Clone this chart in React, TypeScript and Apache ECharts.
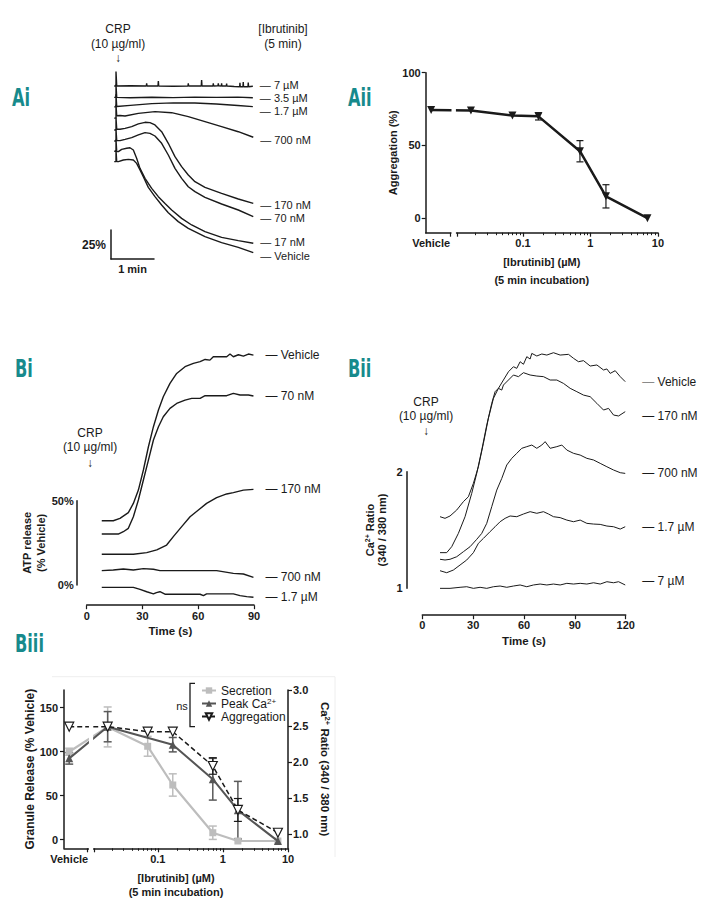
import React, { useEffect, useRef } from 'react';
import * as echarts from 'echarts';

const FONT = '"Liberation Sans", Arial, Helvetica, sans-serif';
const PANEL_FONT = 'bold 25px "Liberation Sans Narrow", "DejaVu Sans Condensed", "Liberation Sans", sans-serif';
const TEAL = '#178a8c';
const INK = '#1a1a1a';

// ---------------- Ai : aggregation traces [time (s), deflection (%)] ----------------
const aiNames = ['7 µM', '3.5 µM', '1.7 µM', '700 nM', '170 nM', '70 nM', '17 nM', 'Vehicle'];
const ai7uM = [[-2.5, 13.8], [0, 13.8], [0, 1.4], [1, 13.8], [20, 13.6], [42.3, 13.8], [42.8, 11.5], [43.3, 13.8], [58.6, 13.8], [59.1, 9.5], [59.6, 13.8], [80, 14.0], [100.4, 13.8], [100.9, 11.5], [101.4, 13.8], [119, 13.8], [119.5, 8.6], [120, 13.8], [135.3, 13.8], [135.8, 11.5], [136.3, 13.8], [142.3, 13.6], [142.8, 11.5], [143.3, 13.6], [147, 13.8], [147.4, 11.5], [147.8, 13.8], [154, 13.8], [154.4, 11.8], [154.8, 13.8], [165, 14.2], [172.6, 14.4], [173, 11.0], [173.4, 14.4], [177.2, 14.4], [177.6, 10.3], [178, 14.4], [184.2, 14.4], [184.6, 10.8], [185, 14.4], [191, 14.0]];
const ai3_5uM = [[-2.5, 23.6], [0, 23.6], [0, 12.5], [1, 23.6], [20, 23.9], [50, 23.5], [80, 23.8], [110, 23.4], [140, 23.6], [170, 23.4], [191, 23.9]];
const ai1_7uM = [[-2.5, 31.8], [0, 31.8], [0, 21], [1, 31.5], [20, 30.5], [50, 29.0], [80, 28.3], [110, 28.4], [140, 29.3], [170, 30.6], [191, 31.6]];
const ai700nM = [[-2.5, 41.5], [0, 41.5], [0, 30], [1, 39.5], [5.6, 39.2], [12.6, 39.7], [31.2, 37.4], [54.4, 35.9], [77.7, 36.8], [100.9, 40.2], [124.2, 44.5], [147.4, 48.8], [170.7, 53.2], [191.6, 58.0]];
const ai170nM = [[-2.5, 51.7], [0, 51.7], [0, 41], [1, 51.1], [5.6, 51.1], [12.6, 50.3], [21.9, 48.8], [31.2, 46.5], [40.5, 45.1], [47.4, 45.4], [54.4, 47.4], [63.7, 53.2], [73.0, 63.2], [82.3, 74.7], [91.6, 83.3], [100.9, 90.5], [110.2, 96.3], [124.2, 101.2], [147.4, 106.3], [170.7, 111.2], [191.6, 115.0]];
const ai70nM = [[-2.5, 61.2], [0, 61.2], [0, 51], [1, 60.9], [5.6, 60.9], [12.6, 59.8], [21.9, 58.3], [31.2, 56.0], [40.5, 54.0], [47.4, 54.6], [54.4, 56.9], [63.7, 63.2], [73.0, 73.3], [82.3, 84.8], [91.6, 93.4], [100.9, 100.6], [110.2, 104.9], [124.2, 109.8], [147.4, 115.5], [170.7, 120.7], [191.6, 126.4]];
const ai17nM = [[-2.5, 70.0], [0, 70.0], [0, 60], [1, 70.4], [3.3, 70.4], [7.9, 68.4], [14.9, 67.5], [19.5, 67.0], [24.2, 69.0], [28.8, 76.1], [33.5, 84.8], [40.5, 93.4], [49.8, 102.0], [59.1, 109.2], [68.4, 115.0], [77.7, 120.7], [91.6, 127.9], [105.6, 133.6], [124.2, 139.4], [147.4, 144.3], [170.7, 147.1], [191.6, 149.4]];
const aiVehicle = [[-2.5, 79.0], [0, 79.0], [0, 69], [1, 79.0], [3.3, 79.0], [10.2, 77.6], [17.2, 77.0], [24.2, 77.6], [28.8, 80.5], [33.5, 86.2], [38.1, 92.0], [45.1, 101.2], [54.4, 109.2], [63.7, 116.4], [73.0, 123.0], [86.9, 130.7], [100.9, 136.5], [124.2, 143.7], [147.4, 148.8], [170.7, 152.9], [191.6, 157.5]];
const aiTraces = [ai7uM, ai3_5uM, ai1_7uM, ai700nM, ai170nM, ai70nM, ai17nM, aiVehicle];
const aiLabelShift = [-1.5, 0, 4, 2.5, 1.5, 1.5, -1, 3.5];

// ---------------- Aii : aggregation vs [ibrutinib] ----------------
const aiiConc = [0.017, 0.07, 0.17, 0.7, 1.7, 7];
const aiiVehicle = 74.4;
const aiiMean = [74, 70.5, 70, 46, 15, 0];
const aiiErr = [0, 0, 2.5, 7.3, 8, 0];

// ---------------- Bi : ATP release traces [time (s), %] ----------------
const biNames = ['Vehicle', '70 nM', '170 nM', '700 nM', '1.7 µM'];
const biVehicle = [[8.1, 38.1], [14.3, 38.1], [17.9, 39.5], [22.4, 42.9], [25.1, 48.4], [27.8, 56.3], [30.5, 68.2], [33.2, 82.0], [35.9, 93.9], [38.6, 103.8], [41.2, 111.7], [44.8, 119.6], [48.4, 125.5], [52.9, 129.5], [57.4, 131.5], [61.0, 132.5], [63.7, 133.8], [66.3, 133.4], [68.1, 135.4], [75.3, 135.4], [77.1, 137.0], [78.9, 135.4], [81.6, 136.6], [84.3, 135.8], [87.0, 137.0], [89.7, 136.4]];
const bi70nM = [[8.1, 30.2], [17.0, 30.2], [19.7, 31.6], [22.4, 33.6], [25.1, 40.5], [27.8, 50.4], [30.5, 62.3], [33.2, 74.1], [35.9, 86.0], [38.6, 93.9], [41.2, 99.8], [44.8, 104.8], [48.4, 107.7], [52.9, 109.7], [56.5, 110.7], [61.0, 110.7], [63.7, 112.3], [66.3, 112.3], [75.3, 112.3], [78.9, 113.7], [82.5, 112.7], [87.0, 112.7], [89.7, 112.1]];
const bi170nM = [[8.1, 18.2], [25.1, 18.2], [32.3, 19.2], [37.7, 20.8], [43.0, 23.7], [46.6, 28.7], [51.1, 34.6], [55.6, 40.5], [60.1, 44.5], [64.5, 48.4], [69.9, 51.8], [75.3, 54.0], [78.9, 54.8], [84.3, 56.3], [89.7, 56.7]];
const bi700nM = [[8.1, 8.5], [14.3, 8.9], [19.7, 9.5], [25.1, 8.9], [30.5, 9.7], [35.9, 9.3], [39.4, 8.5], [52.0, 8.5], [69.9, 8.5], [78.9, 6.9], [84.3, 6.5], [89.7, 4.5]];
const bi1_7uM = [[8.1, -1.4], [25.1, -1.4], [28.7, -2.6], [32.3, -4.0], [35.9, -5.3], [37.5, -4.5], [39.4, -4.0], [42.1, -5.5], [52.0, -5.5], [61.0, -5.5], [62.8, -6.3], [64.5, -5.3], [78.9, -5.3], [82.5, -6.3], [86.1, -6.9], [89.7, -7.3]];
const biTraces = [biVehicle, bi70nM, bi170nM, bi700nM, bi1_7uM];

// ---------------- Bii : Ca2+ ratio traces [time (s), ratio] ----------------
const biiNames = ['Vehicle', '170 nM', '700 nM', '1.7 µM', '7 µM'];
const biiVehicle = [[10.46, 1.614], [13.41, 1.600], [16.36, 1.620], [20.30, 1.671], [24.24, 1.743], [27.19, 1.785], [30.15, 1.900], [33.10, 2.042], [36.05, 2.242], [39.00, 2.457], [41.96, 2.628], [44.91, 2.714], [47.86, 2.785], [50.82, 2.856], [53.77, 2.899], [55.74, 2.885], [57.71, 2.942], [59.68, 2.920], [61.65, 2.985], [63.61, 2.965], [64.60, 3.013], [67.55, 2.991], [70.50, 3.008], [73.46, 2.999], [77.39, 3.019], [81.33, 2.999], [86.25, 3.005], [89.21, 2.971], [92.16, 2.942], [95.11, 2.951], [99.05, 2.905], [102.99, 2.914], [106.92, 2.871], [108.89, 2.880], [110.86, 2.842], [113.81, 2.865], [116.77, 2.814], [119.72, 2.771]];
const bii170nM = [[10.46, 1.306], [14.39, 1.306], [17.35, 1.357], [21.28, 1.471], [25.22, 1.614], [29.16, 1.814], [32.11, 1.985], [35.07, 2.185], [38.02, 2.399], [40.97, 2.585], [42.94, 2.685], [44.91, 2.714], [46.88, 2.699], [47.86, 2.742], [50.82, 2.785], [53.77, 2.828], [56.72, 2.814], [59.68, 2.848], [63.61, 2.828], [67.55, 2.819], [71.49, 2.814], [75.43, 2.785], [79.36, 2.785], [83.30, 2.756], [87.24, 2.714], [91.18, 2.685], [95.11, 2.656], [99.05, 2.642], [102.99, 2.585], [106.92, 2.528], [109.88, 2.542], [112.83, 2.485], [115.79, 2.477], [119.72, 2.514]];
const bii700nM = [[10.46, 1.249], [13.41, 1.243], [16.36, 1.249], [20.30, 1.271], [24.24, 1.314], [28.18, 1.357], [32.11, 1.420], [35.07, 1.471], [38.02, 1.557], [40.97, 1.700], [43.93, 1.842], [46.88, 1.942], [49.83, 2.057], [52.78, 2.114], [55.74, 2.157], [58.69, 2.200], [61.65, 2.214], [64.60, 2.228], [67.55, 2.200], [70.50, 2.228], [72.47, 2.257], [75.43, 2.200], [79.36, 2.214], [82.31, 2.228], [85.27, 2.185], [89.21, 2.157], [93.14, 2.142], [97.08, 2.114], [101.02, 2.100], [104.96, 2.071], [108.89, 2.042], [112.83, 2.014], [116.77, 1.991], [119.72, 1.985]];
const bii1_7uM = [[10.46, 1.151], [14.39, 1.134], [18.33, 1.157], [22.27, 1.200], [26.21, 1.243], [30.15, 1.306], [33.10, 1.386], [36.05, 1.428], [39.99, 1.486], [42.94, 1.528], [45.90, 1.571], [48.85, 1.600], [51.80, 1.620], [55.74, 1.614], [59.68, 1.637], [63.61, 1.657], [67.55, 1.643], [71.49, 1.657], [74.44, 1.637], [77.39, 1.614], [81.33, 1.606], [85.27, 1.585], [89.21, 1.571], [93.14, 1.585], [97.08, 1.557], [101.02, 1.551], [104.96, 1.548], [108.89, 1.534], [112.83, 1.528], [116.77, 1.508], [119.72, 1.528]];
const bii7uM = [[10.46, 1.000], [16.36, 1.000], [22.27, 1.009], [26.21, 1.014], [30.15, 1.000], [34.08, 1.009], [38.02, 1.000], [41.96, 1.014], [45.90, 1.020], [49.83, 1.009], [53.77, 1.020], [57.71, 1.029], [61.65, 1.014], [65.58, 1.029], [69.52, 1.037], [73.46, 1.029], [77.39, 1.037], [81.33, 1.029], [85.27, 1.043], [89.21, 1.037], [93.14, 1.043], [97.08, 1.037], [101.02, 1.048], [104.96, 1.037], [108.89, 1.057], [112.83, 1.048], [115.79, 1.057], [119.72, 1.029]];
const biiTraces = [biiVehicle, bii170nM, bii700nM, bii1_7uM, bii7uM];
const biiLabelShift = [0, 4, 0, 0, -4];

// ---------------- Biii : granule release / Ca2+ / aggregation ----------------
const biiiConc = [0.017, 0.07, 0.17, 0.7, 1.7, 7];
const secVehicle = [99.8, 4];
const secMean = [128, 106, 62, 7.7, -1.7, -1.7];
const secErr = [22.7, 11.3, 12.7, 7.6, 0, 0];
const caConc = [0.017, 0.17, 0.7, 1.7, 7];
const caVehicle = [2.05, 0.08];
const caMean = [2.49, 2.24, 1.76, 1.33, 0.9];
const caErr = [0.21, 0.1, 0.29, 0.4, 0];
const aggVehicle = 128.3;
const aggMean = [128.3, 122.6, 122.6, 83.6, 33.6, 7.7];
const aggErr = [0, 0, 0, 9.4, 13, 0];

// ---------------- broken log axis (log10 units) ----------------
const U_MIN = -2.44;
const U_MAX = 1;
const U_VEH = -2.36;
const GAP = [-2.08, -1.97];
const concTickValues = [U_VEH, -1, 0, 1];
const concTickLabels = ['Vehicle', '0.1', '1', '10'];
const minorMult = [2, 3, 4, 5, 6, 7, 8, 9];
const minorDecades = [0.01, 0.1, 1];

const lg = (c: number) => Math.log10(c);
const majorTicks = [GAP[0], GAP[1], -1, 0, 1];
const minorTicks = minorDecades.flatMap((d) => minorMult.map((m) => lg(m * d)));
const fmtConc = (v: number) => {
  const i = concTickValues.findIndex((t) => Math.abs(t - v) < 1e-6);
  return i >= 0 ? concTickLabels[i] : '';
};

const bold = (size = 11) => ({ fontFamily: FONT, fontSize: size, fontWeight: 'bold' as const, color: INK });
const noSplit = { show: false };

const errRender = (color: string, lw: number, cap: number) => (params: any, api: any) => {
  const x = api.value(0);
  const lo = api.coord([x, api.value(1)]);
  const hi = api.coord([x, api.value(2)]);
  const h = cap / 2;
  const style = { stroke: color, lineWidth: lw };
  return {
    type: 'group',
    children: [
      { type: 'line', shape: { x1: lo[0], y1: lo[1], x2: hi[0], y2: hi[1] }, style },
      { type: 'line', shape: { x1: lo[0] - h, y1: lo[1], x2: lo[0] + h, y2: lo[1] }, style },
      { type: 'line', shape: { x1: hi[0] - h, y1: hi[1], x2: hi[0] + h, y2: hi[1] }, style },
    ],
  };
};

const errSeries = (xi: number, yi: number, data: number[][], color: string, lw: number, cap: number, z: number) => ({
  type: 'custom',
  xAxisIndex: xi,
  yAxisIndex: yi,
  silent: true,
  z,
  renderItem: errRender(color, lw, cap),
  encode: { x: 0, y: [1, 2] },
  data,
});

const errData = (uVals: number[], mean: number[], err: number[]) =>
  uVals.map((u, i) => [u, mean[i] - err[i], mean[i] + err[i]]).filter((_, i) => err[i] > 0);

const traceSeries = (names: string[], datas: number[][][], xi: number, yi: number, distance: number, shift: number[], width: number, fontSize: number, grayDashFirst = false) =>
  names.map((n, i) => ({
    type: 'line',
    name: n,
    xAxisIndex: xi,
    yAxisIndex: yi,
    data: datas[i],
    showSymbol: false,
    symbol: 'none',
    silent: true,
    z: 3,
    lineStyle: { color: INK, width },
    endLabel: {
      show: true,
      distance,
      offset: [0, shift[i] || 0],
      formatter: (p: any) => (grayDashFirst && i === 0 ? '{g|—} ' : '— ') + p.seriesName,
      color: INK,
      fontFamily: FONT,
      fontSize,
      rich: { g: { color: '#8a8a8a', fontFamily: FONT, fontSize } },
    },
  }));

const txt = (text: string, x: number, y: number, font = `12px ${FONT}`, align = 'center', fill = INK, scaleX?: number) => {
  const el: any = { type: 'text', x, y, z: 50, silent: true, style: { text, fill, font, align, verticalAlign: 'middle' } };
  if (scaleX) el.scaleX = scaleX;
  return el;
};

const concAxes = (grid: number) => [
  {
    type: 'value', gridIndex: grid, min: U_MIN, max: U_MAX, position: 'bottom',
    axisLine: { show: true, onZero: false, lineStyle: { color: INK, width: 1.5 } },
    axisTick: { show: true, length: 4, customValues: majorTicks, lineStyle: { color: INK, width: 1.2 } },
    axisLabel: { show: true, customValues: concTickValues, formatter: fmtConc, margin: 5, ...bold(11) },
    splitLine: noSplit,
    nameLocation: 'middle',
  } as any,
  {
    type: 'value', gridIndex: grid, min: U_MIN, max: U_MAX, position: 'bottom',
    axisLine: { show: false, onZero: false },
    axisTick: { show: true, length: 2.5, customValues: minorTicks, lineStyle: { color: INK, width: 1 } },
    axisLabel: { show: false },
    splitLine: noSplit,
  } as any,
];

function buildOption() {
  const aiiU = aiiConc.map(lg);
  const biiiU = biiiConc.map(lg);
  const caU = caConc.map(lg);

  const xAxis: any[] = [];
  const yAxis: any[] = [];
  // 0 Ai traces
  xAxis.push({ type: 'value', gridIndex: 0, min: -3, max: 191, show: false, splitLine: noSplit });
  yAxis.push({ type: 'value', gridIndex: 0, min: 0, max: 165, inverse: true, show: false, splitLine: noSplit });
  // 1 Ai scale bar
  xAxis.push({
    type: 'value', gridIndex: 1, min: 0, max: 1,
    axisLine: { show: true, onZero: false, lineStyle: { color: INK, width: 1.5 } },
    axisTick: { show: false }, axisLabel: { show: false }, splitLine: noSplit,
    name: '1 min', nameLocation: 'middle', nameGap: 4, nameTextStyle: bold(11),
  });
  yAxis.push({
    type: 'value', gridIndex: 1, min: 0, max: 25,
    axisLine: { show: true, onZero: false, lineStyle: { color: INK, width: 1.5 } },
    axisTick: { show: false }, axisLabel: { show: false }, splitLine: noSplit,
    name: '25%', nameLocation: 'middle', nameRotate: 0, nameGap: 5, nameTextStyle: bold(12),
  });
  // 2,3 Aii
  const aiiX = concAxes(2);
  aiiX[0].name = '[Ibrutinib] (µM)\n(5 min incubation)';
  aiiX[0].nameGap = 21;
  aiiX[0].nameTextStyle = { ...bold(11), lineHeight: 17.6 };
  xAxis.push(...aiiX);
  yAxis.push({
    type: 'value', gridIndex: 2, min: -10, max: 100,
    axisLine: { show: true, onZero: false, lineStyle: { color: INK, width: 1.5 } },
    axisTick: { show: true, length: 4, customValues: [0, 50, 100], lineStyle: { color: INK, width: 1.2 } },
    axisLabel: { customValues: [0, 50, 100], margin: 5, ...bold(11) },
    splitLine: noSplit,
    name: 'Aggregation (%)', nameLocation: 'middle', nameRotate: 90, nameGap: 27, nameTextStyle: bold(11),
  });
  // 4 Bi traces
  xAxis.push({
    type: 'value', gridIndex: 3, min: 0, max: 90, interval: 30,
    axisLine: { show: true, onZero: false, lineStyle: { color: INK, width: 1.5 } },
    axisTick: { show: true, length: 4, lineStyle: { color: INK, width: 1.2 } },
    axisLabel: { margin: 5, ...bold(11) }, splitLine: noSplit,
    name: 'Time (s)', nameLocation: 'middle', nameGap: 20, nameTextStyle: bold(11.5),
  });
  yAxis.push({ type: 'value', gridIndex: 3, min: -12, max: 140, show: false, splitLine: noSplit });
  // 5 Bi scale bar
  xAxis.push({ type: 'value', gridIndex: 4, min: 0, max: 1, show: false, splitLine: noSplit });
  yAxis.push({
    type: 'value', gridIndex: 4, min: 0, max: 50, interval: 50,
    axisLine: { show: true, onZero: false, lineStyle: { color: INK, width: 1.5 } },
    axisTick: { show: false }, axisLabel: { formatter: '{value}%', margin: 3, ...bold(11) }, splitLine: noSplit,
    name: 'ATP release\n(% Vehicle)', nameLocation: 'middle', nameRotate: 90, nameGap: 17,
    nameTextStyle: { ...bold(11), lineHeight: 14 },
  });
  // 6 Bii traces
  xAxis.push({
    type: 'value', gridIndex: 5, min: 0, max: 120, interval: 30,
    axisLine: { show: true, onZero: false, lineStyle: { color: INK, width: 1.5 } },
    axisTick: { show: true, length: 4, lineStyle: { color: INK, width: 1.2 } },
    axisLabel: { margin: 4, ...bold(11) }, splitLine: noSplit,
    name: 'Time (s)', nameLocation: 'middle', nameGap: 20, nameTextStyle: bold(11.5),
  });
  yAxis.push({ type: 'value', gridIndex: 5, min: 0.77, max: 3.05, show: false, splitLine: noSplit });
  // 7 Bii scale bar
  xAxis.push({ type: 'value', gridIndex: 6, min: 0, max: 1, show: false, splitLine: noSplit });
  yAxis.push({
    type: 'value', gridIndex: 6, min: 1, max: 2, interval: 1,
    axisLine: { show: true, onZero: false, lineStyle: { color: INK, width: 1.5 } },
    axisTick: { show: false }, axisLabel: { margin: 4, ...bold(11) }, splitLine: noSplit,
    name: 'Ca{sup|2+} Ratio\n(340 / 380 nm)', nameLocation: 'middle', nameRotate: 90, nameGap: 19,
    nameTextStyle: { ...bold(11), lineHeight: 12, rich: { sup: { ...bold(7), verticalAlign: 'top', lineHeight: 8 } } },
  });
  // 8,9 Biii
  const biiiX = concAxes(7);
  biiiX[0].name = '[Ibrutinib] (µM)\n(5 min incubation)';
  biiiX[0].nameGap = 23;
  biiiX[0].nameTextStyle = { ...bold(11), lineHeight: 13.5 };
  xAxis.push(...biiiX);
  yAxis.push({
    type: 'value', gridIndex: 7, min: -10, max: 170, position: 'left',
    axisLine: { show: true, onZero: false, lineStyle: { color: INK, width: 1.5 } },
    axisTick: { show: true, length: 4, customValues: [0, 50, 100, 150], lineStyle: { color: INK, width: 1.2 } },
    axisLabel: { customValues: [0, 50, 100, 150], margin: 6, ...bold(11) },
    splitLine: noSplit,
    name: 'Granule Release (% Vehicle)', nameLocation: 'middle', nameRotate: 90, nameGap: 27, nameTextStyle: bold(12),
  });
  yAxis.push({
    type: 'value', gridIndex: 7, min: 0.8, max: 3.0, position: 'right',
    axisLine: { show: true, onZero: false, lineStyle: { color: INK, width: 1.5 } },
    axisTick: { show: true, length: 4, customValues: [1, 1.5, 2, 2.5, 3], lineStyle: { color: INK, width: 1.2 } },
    axisLabel: { customValues: [1, 1.5, 2, 2.5, 3], margin: 5, formatter: (v: number) => v.toFixed(1), ...bold(11) },
    splitLine: noSplit,
    name: 'Ca{sup|2+} Ratio (340 / 380 nm)', nameLocation: 'middle', nameRotate: -90, nameGap: 31,
    nameTextStyle: { ...bold(11.5), rich: { sup: { ...bold(7.5), verticalAlign: 'top', lineHeight: 8 } } },
  });

  const grid = [
    { left: 113.85, top: 70, width: 139.0, height: 191.4 },
    { left: 111, top: 230, width: 43, height: 29 },
    { left: 425.7, top: 72.7, width: 232.2, height: 160 },
    { left: 86.7, top: 349, width: 167.3, height: 256.2 },
    { left: 76.7, top: 500.7, width: 10, height: 84.3 },
    { left: 422.3, top: 349.1, width: 203.4, height: 266.1 },
    { left: 406.7, top: 471.7, width: 10, height: 116.6 },
    { left: 64, top: 690, width: 224, height: 158.3 },
  ].map((g) => ({ ...g, containLabel: false }));

  const series: any[] = [];
  series.push(...traceSeries(aiNames, aiTraces, 0, 0, 7, aiLabelShift, 1.4, 11));
  // Aii
  series.push(errSeries(2, 2, errData(aiiU, aiiMean, aiiErr), INK, 1.2, 7, 4));
  series.push({
    type: 'line', name: 'Aggregation (Aii)', xAxisIndex: 2, yAxisIndex: 2, silent: true, z: 5,
    data: [[U_VEH, aiiVehicle], ...aiiU.map((u, i) => [u, aiiMean[i]])],
    symbol: 'triangle', symbolRotate: 180, symbolSize: 8,
    lineStyle: { color: INK, width: 2.5 }, itemStyle: { color: INK },
  });
  series.push(...traceSeries(biNames, biTraces, 4, 3, 12, [], 1.4, 12));
  series.push(...traceSeries(biiNames, biiTraces, 6, 5, 17, biiLabelShift, 1, 12, true));
  // Biii
  series.push(errSeries(8, 7, [[U_VEH, secVehicle[0] - secVehicle[1], secVehicle[0] + secVehicle[1]], ...errData(biiiU, secMean, secErr)], '#bdbdbd', 1.5, 8, 2));
  series.push(errSeries(8, 8, [[U_VEH, caVehicle[0] - caVehicle[1], caVehicle[0] + caVehicle[1]], ...errData(caU, caMean, caErr)], '#5a5a5a', 1.5, 8, 3));
  series.push(errSeries(8, 7, errData(biiiU, aggMean, aggErr), INK, 1.2, 8, 4));
  series.push({
    type: 'line', name: 'Secretion', xAxisIndex: 8, yAxisIndex: 7, silent: true, z: 3,
    data: [[U_VEH, secVehicle[0]], ...biiiU.map((u, i) => [u, secMean[i]])],
    symbol: 'rect', symbolSize: 7,
    lineStyle: { color: '#bdbdbd', width: 2.2 }, itemStyle: { color: '#bdbdbd' },
  });
  series.push({
    type: 'line', name: 'Peak Ca2+', xAxisIndex: 8, yAxisIndex: 8, silent: true, z: 4,
    data: [[U_VEH, caVehicle[0]], ...caU.map((u, i) => [u, caMean[i]])],
    symbol: 'triangle', symbolSize: 8,
    lineStyle: { color: '#555555', width: 2 }, itemStyle: { color: '#555555' },
  });
  series.push({
    type: 'line', name: 'Aggregation', xAxisIndex: 8, yAxisIndex: 7, silent: true, z: 5,
    data: [[U_VEH, aggVehicle], ...biiiU.map((u, i) => [u, aggMean[i]])],
    symbol: 'triangle', symbolRotate: 180, symbolSize: 9,
    lineStyle: { color: INK, width: 1.5, type: [5, 3] },
    itemStyle: { color: '#ffffff', borderColor: INK, borderWidth: 1.2 },
  });

  return {
    animation: false,
    backgroundColor: '#ffffff',
    textStyle: { fontFamily: FONT },
    grid,
    xAxis,
    yAxis,
    legend: {
      data: ['Secretion', 'Peak Ca2+', 'Aggregation'],
      orient: 'vertical', left: 201, top: 684.5, itemWidth: 14, itemHeight: 8, itemGap: 1,
      selectedMode: false, padding: 0,
      formatter: (name: string) => (name === 'Peak Ca2+' ? 'Peak Ca{sup|2+}' : name),
      textStyle: { fontFamily: FONT, fontSize: 12, color: INK, rich: { sup: { fontFamily: FONT, fontSize: 8, color: INK, verticalAlign: 'top', lineHeight: 9 } } },
    },
    series,
  };
}

function baseGraphics() {
  return [
    // panel letters
    txt('Ai', 12, 97, PANEL_FONT, 'left', TEAL, 0.72),
    txt('Aii', 348, 97, PANEL_FONT, 'left', TEAL, 0.72),
    txt('Bi', 15, 368, PANEL_FONT, 'left', TEAL, 0.72),
    txt('Bii', 348, 368, PANEL_FONT, 'left', TEAL, 0.72),
    txt('Biii', 15, 643, PANEL_FONT, 'left', TEAL, 0.72),
    // Ai annotations
    txt('CRP', 118, 29.3),
    txt('(10 µg/ml)', 118, 44),
    txt('↓', 118, 58.3),
    txt('[Ibrutinib]', 283, 29.3),
    txt('(5 min)', 283, 44),
    // Bi annotations
    txt('CRP', 90, 432.7),
    txt('(10 µg/ml)', 90, 447),
    txt('↓', 90, 463),
    // Bii annotations
    txt('CRP', 426, 401.7),
    txt('(10 µg/ml)', 426, 415.7),
    txt('↓', 426, 431),
    // Biii significance bracket
    {
      type: 'polyline', z: 50, silent: true,
      shape: { points: [[195, 683.3], [190, 683.3], [190, 726.7], [195, 726.7]] },
      style: { stroke: INK, lineWidth: 1.3, fill: 'none' },
    },
    txt('ns', 182, 705.5, `11px ${FONT}`),
    {
      type: 'polyline', z: 0, silent: true,
      shape: { points: [[52, 676.7], [335, 676.7], [335, 857]] },
      style: { stroke: '#eeeeee', lineWidth: 1, fill: 'none' },
    },
  ];
}

export default function App() {
  const ref = useRef<HTMLDivElement>(null);
  useEffect(() => {
    if (!ref.current) return;
    const chart = echarts.init(ref.current, undefined, { renderer: 'svg', width: 708, height: 905 });
    chart.setOption(buildOption() as any);
    const gapRect = (axisIdx: number, top: number, bottom: number) => {
      const a = chart.convertToPixel({ xAxisIndex: axisIdx } as any, GAP[0]) as unknown as number;
      const b = chart.convertToPixel({ xAxisIndex: axisIdx } as any, GAP[1]) as unknown as number;
      return {
        type: 'rect', z: 100, silent: true,
        shape: { x: a + 1.5, y: top, width: Math.max(0, b - a - 3), height: bottom - top },
        style: { fill: '#ffffff' },
      };
    };
    chart.setOption({ graphic: { elements: [...baseGraphics(), gapRect(2, 72.7, 235), gapRect(8, 690, 850.6)] } } as any);
    return () => chart.dispose();
  }, []);
  return <div ref={ref} style={{ position: 'absolute', left: 0, top: 0, width: 708, height: 905, background: '#fff' }} />;
}
